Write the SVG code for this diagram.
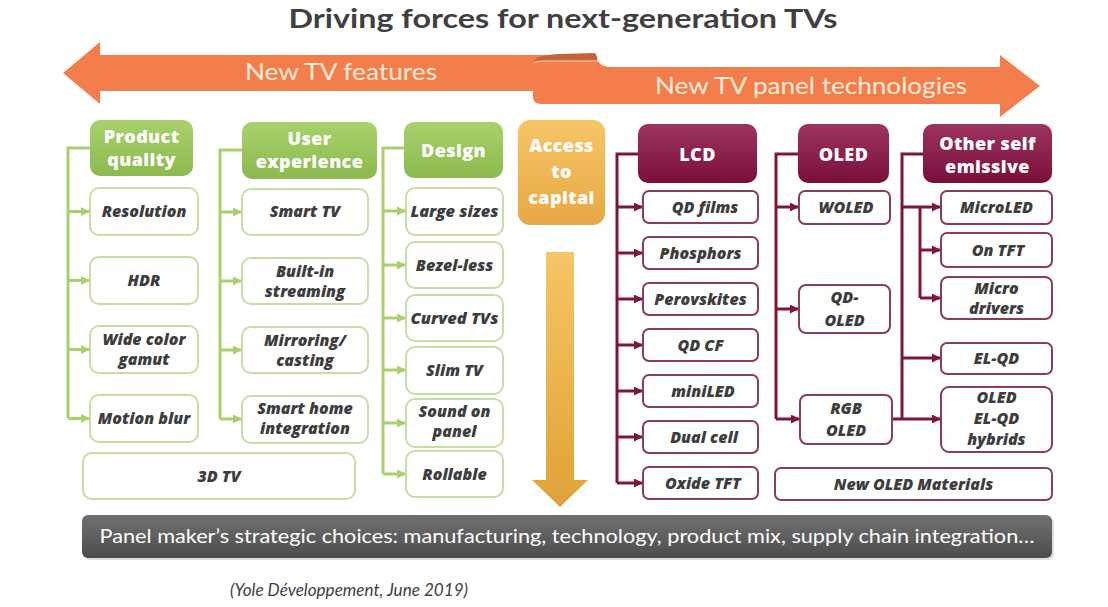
<svg xmlns="http://www.w3.org/2000/svg" width="1108" height="607" viewBox="0 0 1108 607">
<defs>
<linearGradient id="gGreen" x1="0" y1="0" x2="0" y2="1"><stop offset="0" stop-color="#a9d16d"/><stop offset="1" stop-color="#8cba4e"/></linearGradient>
<linearGradient id="gMaroon" x1="0" y1="0" x2="0" y2="1"><stop offset="0" stop-color="#9c3560"/><stop offset="1" stop-color="#7a0e3a"/></linearGradient>
<linearGradient id="gGold" x1="0" y1="0" x2="0" y2="1"><stop offset="0" stop-color="#f6c666"/><stop offset="1" stop-color="#e8a844"/></linearGradient>
<linearGradient id="gGoldArrow" x1="0" y1="0" x2="0" y2="1"><stop offset="0" stop-color="#f6c564"/><stop offset="1" stop-color="#dfa338"/></linearGradient>
<linearGradient id="gGray" x1="0" y1="0" x2="0" y2="1"><stop offset="0" stop-color="#717171"/><stop offset="1" stop-color="#4c4c4c"/></linearGradient>
<marker id="aG" markerUnits="userSpaceOnUse" markerWidth="9" markerHeight="9" refX="9" refY="4.5" orient="auto"><path d="M0,0 L9,4.5 L0,9 z" fill="#a9d06a"/></marker>
<marker id="aM" markerUnits="userSpaceOnUse" markerWidth="9" markerHeight="9" refX="9" refY="4.5" orient="auto"><path d="M0,0 L9,4.5 L0,9 z" fill="#7c1640"/></marker>
<style>
.title{font-family:"Lato","Open Sans",sans-serif;font-weight:bold;font-size:26px;fill:#404040}
.band{font-family:"Lato","Open Sans",sans-serif;font-size:23px;fill:#fdebd9}
.hd{font-family:"Open Sans","Lato",sans-serif;font-weight:800;font-size:18px;letter-spacing:0.4px;fill:#ffffff;text-anchor:middle}
.it{font-family:"Open Sans","Lato",sans-serif;font-weight:800;font-style:italic;font-size:16px;fill:#3d3d3d;text-anchor:middle}
.gb{fill:#ffffff;stroke:#c6dea5;stroke-width:2}
.mb{fill:#ffffff;stroke:#8c3b5e;stroke-width:2}
.gl{fill:none;stroke:#a9d06a;stroke-width:3}
.ml{fill:none;stroke:#7c1640;stroke-width:3}
.bar{font-family:"Lato","Open Sans",sans-serif;font-size:20px;fill:#ffffff}
.cite{font-family:"Lato","Open Sans",sans-serif;font-style:italic;font-size:17px;fill:#404040}
</style>
</defs>
<rect width="1108" height="607" fill="#ffffff"/>

<text class="title" x="563" y="28" text-anchor="middle" textLength="549" lengthAdjust="spacingAndGlyphs">Driving forces for next-generation TVs</text>

<!-- band arrows -->
<g id="band-left">
<path d="M63,73 L100,42 L100,55 L560,55 L560,91 L100,91 L100,104 Z" fill="#f47e4b"/>
<text class="band" x="341" y="80" text-anchor="middle" textLength="192" lengthAdjust="spacingAndGlyphs">New TV features</text>
</g>
<g id="band-right">
<path d="M533,64 Q533,61 540,61 L598,61 Q601,67 612,67 L1000,67 L1000,55 L1040,86 L1000,117 L1000,104 L541,104 Q533,104 533,97 Z" fill="#f47e4b"/>
<path d="M534,62 Q535,55 560,54 L595,53 Q598,57 597,61 L540,61 Q535,61 534,62 Z" fill="#c2643c"/>
<path d="M534,63 Q536,61 545,61 L598,61" fill="none" stroke="#f9b08c" stroke-width="1.5"/>
<text class="band" x="811" y="94" text-anchor="middle" textLength="312" lengthAdjust="spacingAndGlyphs">New TV panel technologies</text>
</g>

<!-- connectors -->
<g id="connectors">
<path class="gl" d="M90,148 H68 V418"/>
<line class="gl" x1="68" y1="211.5" x2="90" y2="211.5" marker-end="url(#aG)"/>
<line class="gl" x1="68" y1="280.5" x2="90" y2="280.5" marker-end="url(#aG)"/>
<line class="gl" x1="68" y1="349.5" x2="90" y2="349.5" marker-end="url(#aG)"/>
<line class="gl" x1="68" y1="418.5" x2="90" y2="418.5" marker-end="url(#aG)"/>

<path class="gl" d="M242,150 H220 V419"/>
<line class="gl" x1="220" y1="212" x2="242" y2="212" marker-end="url(#aG)"/>
<line class="gl" x1="220" y1="281" x2="242" y2="281" marker-end="url(#aG)"/>
<line class="gl" x1="220" y1="350" x2="242" y2="350" marker-end="url(#aG)"/>
<line class="gl" x1="220" y1="419" x2="242" y2="419" marker-end="url(#aG)"/>

<path class="gl" d="M404,148 H383 V474"/>
<line class="gl" x1="383" y1="211" x2="406" y2="211" marker-end="url(#aG)"/>
<line class="gl" x1="383" y1="265" x2="406" y2="265" marker-end="url(#aG)"/>
<line class="gl" x1="383" y1="318" x2="406" y2="318" marker-end="url(#aG)"/>
<line class="gl" x1="383" y1="370" x2="406" y2="370" marker-end="url(#aG)"/>
<line class="gl" x1="383" y1="423" x2="406" y2="423" marker-end="url(#aG)"/>
<line class="gl" x1="383" y1="474" x2="406" y2="474" marker-end="url(#aG)"/>

<path class="ml" d="M638,154 H617 V483"/>
<line class="ml" x1="617" y1="207" x2="643" y2="207" marker-end="url(#aM)"/>
<line class="ml" x1="617" y1="253" x2="643" y2="253" marker-end="url(#aM)"/>
<line class="ml" x1="617" y1="299" x2="643" y2="299" marker-end="url(#aM)"/>
<line class="ml" x1="617" y1="345" x2="643" y2="345" marker-end="url(#aM)"/>
<line class="ml" x1="617" y1="391" x2="643" y2="391" marker-end="url(#aM)"/>
<line class="ml" x1="617" y1="437" x2="643" y2="437" marker-end="url(#aM)"/>
<line class="ml" x1="617" y1="483" x2="643" y2="483" marker-end="url(#aM)"/>

<path class="ml" d="M798,154 H776 V419"/>
<line class="ml" x1="776" y1="207" x2="799" y2="207" marker-end="url(#aM)"/>
<line class="ml" x1="776" y1="309" x2="799" y2="309" marker-end="url(#aM)"/>
<line class="ml" x1="776" y1="419" x2="800" y2="419" marker-end="url(#aM)"/>

<path class="ml" d="M923,154 H902 V419"/>
<line class="ml" x1="902" y1="207" x2="941" y2="207" marker-end="url(#aM)"/>
<path class="ml" d="M920,207 V298"/>
<line class="ml" x1="920" y1="250" x2="941" y2="250" marker-end="url(#aM)"/>
<line class="ml" x1="920" y1="298" x2="941" y2="298" marker-end="url(#aM)"/>
<line class="ml" x1="902" y1="358" x2="941" y2="358" marker-end="url(#aM)"/>
<line class="ml" x1="892" y1="419" x2="941" y2="419" marker-end="url(#aM)"/>
</g>

<!-- Product quality -->
<g id="product-quality">
<rect x="90" y="120" width="103" height="56" rx="10" fill="url(#gGreen)"/>
<text class="hd" x="141.5" y="143">Product</text>
<text class="hd" x="141.5" y="166">quality</text>
</g>
<g id="resolution"><rect class="gb" x="90" y="188" width="108" height="47" rx="9"/><text class="it" x="144" y="217">Resolution</text></g>
<g id="hdr"><rect class="gb" x="90" y="257" width="108" height="47" rx="9"/><text class="it" x="144" y="286">HDR</text></g>
<g id="wide-color"><rect class="gb" x="90" y="326" width="108" height="47" rx="9"/><text class="it" x="144" y="345">Wide color</text><text class="it" x="144" y="365">gamut</text></g>
<g id="motion-blur"><rect class="gb" x="90" y="395" width="108" height="47" rx="9"/><text class="it" x="144" y="424">Motion blur</text></g>
<g id="3dtv"><rect class="gb" x="83" y="453" width="272" height="46" rx="9"/><text class="it" x="219" y="482">3D TV</text></g>

<!-- User experience -->
<g id="user-experience">
<rect x="242" y="122" width="135" height="57" rx="10" fill="url(#gGreen)"/>
<text class="hd" x="309.5" y="145">User</text>
<text class="hd" x="309.5" y="168">experience</text>
</g>
<g id="smart-tv"><rect class="gb" x="242" y="189" width="126" height="46" rx="9"/><text class="it" x="305" y="217">Smart TV</text></g>
<g id="built-in"><rect class="gb" x="242" y="258" width="126" height="46" rx="9"/><text class="it" x="305" y="277">Built-in</text><text class="it" x="305" y="297">streaming</text></g>
<g id="mirroring"><rect class="gb" x="242" y="327" width="126" height="46" rx="9"/><text class="it" x="305" y="346">Mirroring/</text><text class="it" x="305" y="366">casting</text></g>
<g id="smart-home"><rect class="gb" x="242" y="396" width="126" height="47" rx="9"/><text class="it" x="305" y="414">Smart home</text><text class="it" x="305" y="434">integration</text></g>

<!-- Design -->
<g id="design">
<rect x="404" y="122" width="99" height="56" rx="10" fill="url(#gGreen)"/>
<text class="hd" x="453.5" y="157" font-size="19">Design</text>
</g>
<g id="large-sizes"><rect class="gb" x="406" y="188" width="97" height="47" rx="9"/><text class="it" x="454.5" y="217" textLength="88" lengthAdjust="spacingAndGlyphs">Large sizes</text></g>
<g id="bezel-less"><rect class="gb" x="406" y="242" width="97" height="46" rx="9"/><text class="it" x="454.5" y="271">Bezel-less</text></g>
<g id="curved"><rect class="gb" x="406" y="295" width="97" height="46" rx="9"/><text class="it" x="454.5" y="324" textLength="88" lengthAdjust="spacingAndGlyphs">Curved TVs</text></g>
<g id="slim"><rect class="gb" x="406" y="347" width="97" height="47" rx="9"/><text class="it" x="454.5" y="376">Slim TV</text></g>
<g id="sound"><rect class="gb" x="406" y="399" width="97" height="48" rx="9"/><text class="it" x="454.5" y="417">Sound on</text><text class="it" x="454.5" y="437">panel</text></g>
<g id="rollable"><rect class="gb" x="406" y="451" width="97" height="46" rx="9"/><text class="it" x="454.5" y="480">Rollable</text></g>

<!-- Access to capital -->
<g id="access">
<rect x="518" y="120" width="87" height="105" rx="12" fill="url(#gGold)"/>
<text class="hd" x="561.5" y="152" font-size="19.5">Access</text>
<text class="hd" x="561.5" y="178" font-size="19.5">to</text>
<text class="hd" x="561.5" y="204" font-size="19.5">capital</text>
</g>
<g id="capital-arrow">
<path d="M546,252 H574 V480 H588 L560,507 L532,480 H546 Z" fill="url(#gGoldArrow)"/>
</g>

<!-- LCD -->
<g id="lcd">
<rect x="638" y="124" width="119" height="59" rx="10" fill="url(#gMaroon)"/>
<text class="hd" x="697.5" y="161" font-size="20">LCD</text>
</g>
<g id="qd-films"><rect class="mb" x="643" y="191" width="115" height="32" rx="6"/><text class="it" x="705" y="213">QD films</text></g>
<g id="phosphors"><rect class="mb" x="643" y="237" width="115" height="32" rx="6"/><text class="it" x="700.5" y="259">Phosphors</text></g>
<g id="perovskites"><rect class="mb" x="643" y="283" width="115" height="32" rx="6"/><text class="it" x="700.5" y="305">Perovskites</text></g>
<g id="qd-cf"><rect class="mb" x="643" y="329" width="115" height="32" rx="6"/><text class="it" x="700.5" y="351">QD CF</text></g>
<g id="miniled"><rect class="mb" x="643" y="375" width="115" height="32" rx="6"/><text class="it" x="703" y="397">miniLED</text></g>
<g id="dual-cell"><rect class="mb" x="643" y="421" width="115" height="32" rx="6"/><text class="it" x="704" y="443">Dual cell</text></g>
<g id="oxide-tft"><rect class="mb" x="643" y="467" width="115" height="32" rx="6"/><text class="it" x="703" y="489">Oxide TFT</text></g>

<!-- OLED -->
<g id="oled">
<rect x="798" y="124" width="91" height="59" rx="10" fill="url(#gMaroon)"/>
<text class="hd" x="843.5" y="161" font-size="20">OLED</text>
</g>
<g id="woled"><rect class="mb" x="799" y="191" width="91" height="33" rx="6"/><text class="it" x="846" y="213">WOLED</text></g>
<g id="qd-oled"><rect class="mb" x="799" y="285" width="91" height="48" rx="7"/><text class="it" x="844.5" y="303">QD-</text><text class="it" x="844.5" y="326">OLED</text></g>
<g id="rgb-oled"><rect class="mb" x="800" y="395" width="92" height="49" rx="7"/><text class="it" x="846" y="414">RGB</text><text class="it" x="846" y="436">OLED</text></g>
<g id="new-oled-materials"><rect class="mb" x="775" y="468" width="277" height="32" rx="6"/><text class="it" x="913.5" y="490">New OLED Materials</text></g>

<!-- Other self emissive -->
<g id="other-self">
<rect x="923" y="124" width="129" height="59" rx="10" fill="url(#gMaroon)"/>
<text class="hd" x="987.5" y="150">Other self</text>
<text class="hd" x="987.5" y="173">emissive</text>
</g>
<g id="microled"><rect class="mb" x="941" y="191" width="111" height="33" rx="6"/><text class="it" x="996.5" y="213">MicroLED</text></g>
<g id="on-tft"><rect class="mb" x="941" y="233" width="111" height="34" rx="6"/><text class="it" x="998" y="256">On TFT</text></g>
<g id="micro-drivers"><rect class="mb" x="941" y="277" width="111" height="42" rx="7"/><text class="it" x="996.5" y="294">Micro</text><text class="it" x="996.5" y="314">drivers</text></g>
<g id="el-qd"><rect class="mb" x="941" y="343" width="111" height="31" rx="6"/><text class="it" x="996.5" y="364">EL-QD</text></g>
<g id="hybrids"><rect class="mb" x="941" y="387" width="111" height="65" rx="8"/><text class="it" x="996.5" y="403">OLED</text><text class="it" x="996.5" y="424">EL-QD</text><text class="it" x="996.5" y="445">hybrids</text></g>

<!-- bottom bar -->
<g id="strategy-bar">
<rect x="84" y="517" width="970" height="43" rx="6" fill="#bdbdbd" opacity="0.5"/>
<rect x="82" y="515" width="970" height="43" rx="6" fill="url(#gGray)"/>
<text class="bar" x="567" y="543" text-anchor="middle" textLength="935" lengthAdjust="spacingAndGlyphs">Panel maker’s strategic choices: manufacturing, technology, product mix, supply chain integration…</text>
</g>

<text class="cite" x="230" y="596" textLength="238" lengthAdjust="spacingAndGlyphs">(Yole Développement, June 2019)</text>
</svg>
